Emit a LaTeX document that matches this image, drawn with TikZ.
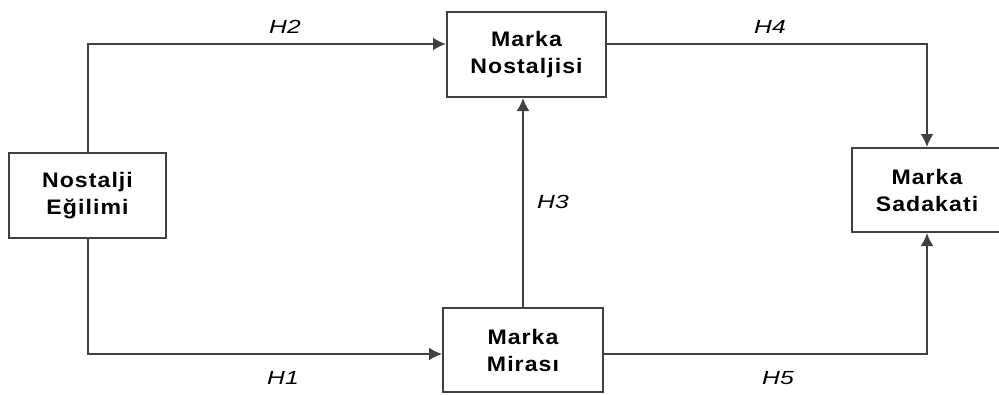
\documentclass[tikz,border=0pt]{standalone}
\usepackage{fontspec}
\setmainfont{Liberation Sans}
\newfontfamily\kutufont[FakeStretch=1.1,LetterSpace=5]{Liberation Sans}
\newfontfamily\hipfont[FakeStretch=1.3]{Liberation Sans}
\usepackage{tikz}
\usetikzlibrary{arrows,arrows.meta}
\tikzstyle{every picture}+=[remember picture]
\tikzstyle{kutu}=[draw=black!75, line width=2pt, fill=white, inner sep=0pt,
    align=center, font=\kutufont\bfseries\fontsize{21}{27}\selectfont]
\tikzstyle{hip}=[font=\hipfont\itshape\fontsize{19}{22}\selectfont]
\tikzstyle{yol}=[draw=black!75, line width=2pt, -{Latex[length=13pt,width=13pt]}]

\begin{document}
\begin{tikzpicture}[x=1pt,y=-1pt]
    \useasboundingbox (0,0) rectangle (999,394);
    \node[kutu, minimum width=157pt, minimum height=85pt] (egilim) at (87.5,195.5) {Nostalji\\E\u{g}ilimi};
    \node[kutu, minimum width=159pt, minimum height=85pt] (nostalji) at (526.5,54.5) {Marka\\Nostaljisi};
    \node[kutu, minimum width=160pt, minimum height=84pt] (miras) at (523,350) {Marka\\Miras\i};
    \node[kutu, minimum width=150pt, minimum height=84pt] (sadakat) at (927,190) {Marka\\Sadakati};
    \coordinate (ust) at (0,44);
    \coordinate (alt) at (0,354);
    \draw[yol] (egilim.north) |- (nostalji.west |- ust);
    \draw[yol] (egilim.south) |- (miras.west |- alt);
    \draw[yol] (miras.north) -- (miras.north |- nostalji.south);
    \draw[yol] (nostalji.east |- ust) -| (sadakat.north);
    \draw[yol] (miras.east |- alt) -| (sadakat.south);
    \node[hip] (h2) at (285,27) {H2};
    \node[hip] (h4) at (770,27) {H4};
    \node[hip] (h3) at (553,202) {H3};
    \node[hip] (h1) at (283,378) {H1};
    \node[hip] (h5) at (778,378) {H5};
\end{tikzpicture}
\end{document}
